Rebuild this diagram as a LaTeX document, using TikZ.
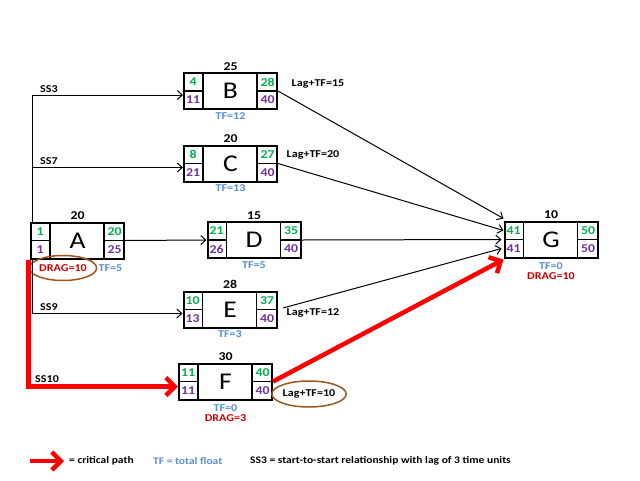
\documentclass[tikz,border=0pt]{standalone}
\usepackage{fontspec}
\setmainfont[FakeStretch=1.15]{Carlito}
\usepackage{xcolor}
\usetikzlibrary{arrows.meta,positioning,shapes.geometric}
\definecolor{esgreen}{RGB}{0,176,80}
\definecolor{lspurple}{RGB}{112,48,160}
\definecolor{tfblue}{RGB}{85,142,213}
\definecolor{dragred}{RGB}{204,0,0}
\definecolor{ovalbrown}{RGB}{156,86,30}

\tikzset{
  actbox/.style={draw,line width=2pt,minimum width=93pt,minimum height=36pt,
    inner sep=0pt,font=\fontsize{24}{26}\selectfont},
  cellline/.style={line width=1.3pt},
  num/.style={inner sep=0pt,font=\fontsize{12}{14}\selectfont\bfseries},
  lbl/.style={inner sep=1pt,font=\fontsize{10.5}{12}\selectfont\bfseries},
  tf/.style={lbl,text=tfblue},
  drag/.style={lbl,text=dragred},
  oval/.style={ellipse,draw=ovalbrown,line width=1.5pt,inner sep=0pt},
  link/.style={line width=1pt,-{Straight Barb[length=5pt,width=9pt]}},
  crit/.style={red,line width=4.5pt,-{Straight Barb[length=9pt,width=18pt]}}
}

% name, position, duration, ES, EF, LS, LF
\newcommand{\activity}[7]{%
  \node[actbox] (#1) at (#2) {#1};
  \draw[cellline] ([xshift=20pt]#1.north west) -- ([xshift=20pt]#1.south west)
    ([xshift=-21pt]#1.north east) -- ([xshift=-21pt]#1.south east)
    (#1.west) -- ([xshift=20pt]#1.west)
    (#1.east) -- ([xshift=-21pt]#1.east);
  \node[num,text=esgreen] (#1-es) at ([xshift=10pt,yshift=9pt]#1.west) {#4};
  \node[num,text=lspurple] (#1-ls) at ([xshift=10pt,yshift=-9pt]#1.west) {#6};
  \node[num,text=esgreen] (#1-ef) at ([xshift=-10.5pt,yshift=9pt]#1.east) {#5};
  \node[num,text=lspurple] (#1-lf) at ([xshift=-10.5pt,yshift=-9pt]#1.east) {#7};
  \node[num,above=1.5pt of #1] (#1-dur) {#3};
}

\begin{document}
\begin{tikzpicture}[x=1pt,y=-1pt]
\useasboundingbox (0,0) rectangle (640,480);

\activity{A}{77.5,240.5}{20}{1}{20}{1}{25}
\activity{B}{230.5,91}{25}{4}{28}{11}{40}
\activity{C}{230.5,163.5}{20}{8}{27}{21}{40}
\activity{D}{254,240}{15}{21}{35}{26}{40}
\activity{E}{230,309.5}{28}{10}{37}{13}{40}
\activity{F}{225.5,381.5}{30}{11}{40}{11}{40}
\activity{G}{551,239.5}{10}{41}{50}{41}{50}

% floats and drag
\node[drag,oval,minimum width=63pt,minimum height=25pt] (A-drag) at (63,268) {DRAG=10};
\node[tf,right=0pt of A-drag] (A-tf) {TF=5};
\node[tf,below=1pt of B] (B-tf) {TF=12};
\node[tf,below=1pt of C] (C-tf) {TF=13};
\node[tf,below=1pt of D] (D-tf) {TF=5};
\node[tf,below=1pt of E] (E-tf) {TF=3};
\node[tf,below=3pt of F] (F-tf) {TF=0};
\node[drag,below=1pt of F-tf] (F-drag) {DRAG=3};
\node[tf,below=3pt of G] (G-tf) {TF=0};
\node[drag,below=1pt of G-tf] (G-drag) {DRAG=10};

\node[lbl] (B-lag) at (318,84) {Lag+TF=15};
\node[lbl] (C-lag) at (313,155) {Lag+TF=20};
\node[lbl] (E-lag) at (313,313) {Lag+TF=12};
\node[lbl,oval,minimum width=68pt,minimum height=26pt] (F-lag) at (309,394) {Lag+TF=10};

% start-to-start links
\draw[link] ([xshift=2pt]A.north west) |- node[lbl,pos=0.556,above=1pt] (ss3) {SS3} ([yshift=-4pt]B.west);
\draw[link] ([xshift=2pt]A.north west) |- node[lbl,pos=0.556,above=1pt] (ss7) {SS7} ([yshift=-4pt]C.west);
\draw[link] ([xshift=2pt]A.south west) |- node[lbl,pos=0.556,above=1pt] (ss9) {SS9} ([yshift=-4pt]E.west);
\draw[link] (A.east) -- (D.west);

% links into G
\draw[link] (B.east) -- ([yshift=2pt]G.north west);
\draw[link] (C.east) -- ([yshift=-10pt]G.north west);
\draw[link] (D.east) -- ([xshift=-2pt]G.west);
\draw[link,shorten <=6pt] (E.east) -- ([xshift=-2pt,yshift=-9pt]G.west);

% critical path
\draw[crit] ([xshift=-1.5pt]A.south west) |- node[lbl,text=black,pos=0.562,above=1pt] (ss10) {SS10} ([yshift=-5pt]F.west);
\draw[crit] (F.east) -- ([yshift=-1pt]G.south west);

% legend
\coordinate (leg-start) at (30,461);
\node[lbl,anchor=west,font=\fontsize{10}{12}\selectfont\bfseries] (leg-cp) at (68,461) {= critical path};
\node[tf,anchor=west,font=\fontsize{10}{12}\selectfont\bfseries] (leg-tf) at (152,461) {TF = total float};
\node[lbl,anchor=west,font=\fontsize{10}{12}\selectfont\bfseries] (leg-ss) at (249,461) {SS3 = start-to-start relationship with lag of 3 time units};
\draw[crit] (leg-start) -- ([xshift=-4pt]leg-cp.west);
\end{tikzpicture}
\end{document}
